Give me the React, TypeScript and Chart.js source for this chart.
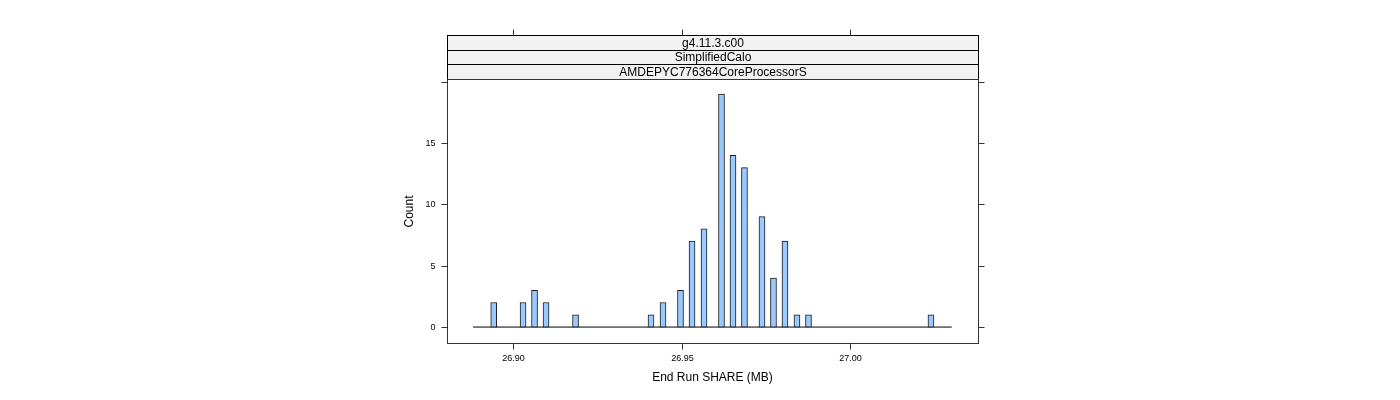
import React, { useEffect, useRef } from "react";
import { Chart, registerables } from "chart.js";

Chart.register(...registerables);

const binCenters: number[] = [
  26.89427, 26.90297, 26.90638, 26.90979, 26.91855, 26.94095, 26.94451, 26.9497,
  26.95312, 26.95668, 26.96187, 26.96528, 26.96869, 26.97389, 26.9773, 26.98071,
  26.98427, 26.98769, 27.02404,
];
const counts: number[] = [2, 2, 3, 2, 1, 1, 2, 3, 7, 8, 19, 14, 13, 9, 4, 7, 1, 1, 1];
const baselineRange: number[] = [26.8881, 27.0302];
const xTicks: number[] = [26.9, 26.95, 27.0];
const xTickLabels: string[] = ["26.90", "26.95", "27.00"];
const yTicks: number[] = [0, 5, 10, 15, 20];
const yTickLabels: string[] = ["0", "5", "10", "15", ""];
const stripLabels: string[] = ["g4.11.3.c00", "SimplifiedCalo", "AMDEPYC776364CoreProcessorS"];
const xTitle = "End Run SHARE (MB)";
const yTitle = "Count";

const FONT = "'Liberation Sans', Arial, sans-serif";

const decorPlugin = {
  id: "latticeDecor",
  afterDraw(chart: any) {
    const ctx = chart.ctx as CanvasRenderingContext2D;
    const area = chart.chartArea;
    const xs = chart.scales.x;
    const ys = chart.scales.y;
    const L = Math.round(area.left) + 0.5;
    const R = Math.round(area.right) + 0.5;
    const T = Math.round(area.top) + 0.5;
    const B = Math.round(area.bottom) + 0.5;
    const stripH = 14.67;
    const n = stripLabels.length;
    ctx.save();
    // strips
    for (let i = 0; i < n; i++) {
      const top = Math.round(area.top - stripH * (n - i)) + 0.5;
      const bot = Math.round(area.top - stripH * (n - i - 1)) + 0.5;
      ctx.fillStyle = "#F2F2F2";
      ctx.fillRect(L, top, R - L, bot - top);
      ctx.strokeStyle = "#000";
      ctx.lineWidth = 1;
      ctx.strokeRect(L, top, R - L, bot - top);
      ctx.fillStyle = "#000";
      ctx.font = `12px ${FONT}`;
      ctx.textAlign = "center";
      ctx.textBaseline = "middle";
      ctx.fillText(stripLabels[i], (L + R) / 2, (top + bot) / 2 + 0.5);
    }
    const stripTop = Math.round(area.top - stripH * n) + 0.5;
    // panel box
    ctx.strokeStyle = "#333";
    ctx.lineWidth = 1;
    ctx.strokeRect(L, T, R - L, B - T);
    // x ticks
    ctx.strokeStyle = "#333";
    ctx.fillStyle = "#000";
    ctx.font = `9px ${FONT}`;
    ctx.textAlign = "center";
    ctx.textBaseline = "middle";
    xTicks.forEach((v, i) => {
      const px = Math.round(xs.getPixelForValue(v)) + 0.5;
      ctx.beginPath();
      ctx.moveTo(px, B);
      ctx.lineTo(px, B + 6);
      ctx.moveTo(px, stripTop);
      ctx.lineTo(px, stripTop - 6);
      ctx.stroke();
      ctx.fillText(xTickLabels[i], px, B + 15);
    });
    // y ticks
    ctx.textAlign = "right";
    yTicks.forEach((v, i) => {
      const py = Math.round(ys.getPixelForValue(v)) + 0.5;
      ctx.beginPath();
      ctx.moveTo(L, py);
      ctx.lineTo(L - 6, py);
      ctx.moveTo(R, py);
      ctx.lineTo(R + 6, py);
      ctx.stroke();
      if (yTickLabels[i]) ctx.fillText(yTickLabels[i], L - 12, py);
    });
    // titles
    ctx.font = `12px ${FONT}`;
    ctx.textAlign = "center";
    ctx.fillText(xTitle, (L + R) / 2 - 0.5, 378);
    ctx.save();
    ctx.translate(410, (T + B) / 2);
    ctx.rotate(-Math.PI / 2);
    ctx.fillText(yTitle, 0, 0);
    ctx.restore();
    ctx.restore();
  },
};

export default function App() {
  const ref = useRef<HTMLCanvasElement | null>(null);
  useEffect(() => {
    document.body.style.margin = "0";
    const canvas = ref.current;
    if (!canvas) return;
    const chart = new Chart(canvas, {
      type: "bar",
      data: {
        datasets: [
          {
            type: "bar",
            data: binCenters.map((x, i) => ({ x, y: counts[i] })),
            backgroundColor: "#99C9FF",
            borderColor: "#1a1a1a",
            borderWidth: 1,
            borderSkipped: false,
            barThickness: 6,
            grouped: false,
            order: 1,
          } as any,
          {
            type: "line",
            data: baselineRange.map((x) => ({ x, y: 0 })),
            borderColor: "#000",
            borderWidth: 1,
            pointRadius: 0,
            order: 2,
          } as any,
        ],
      },
      options: {
        responsive: false,
        animation: false,
        events: [],
        layout: { padding: { left: 447, right: 422, top: 79, bottom: 57 } },
        plugins: { legend: { display: false }, tooltip: { enabled: false } },
        scales: {
          x: { type: "linear", min: 26.8804, max: 27.038, offset: false, display: false },
          y: { type: "linear", min: -1.3, max: 20.22, display: false },
        },
      },
      plugins: [decorPlugin],
    });
    return () => chart.destroy();
  }, []);
  return (
    <div style={{ width: 1400, height: 400, background: "#fff" }}>
      <canvas ref={ref} width={1400} height={400} style={{ display: "block" }} />
    </div>
  );
}
